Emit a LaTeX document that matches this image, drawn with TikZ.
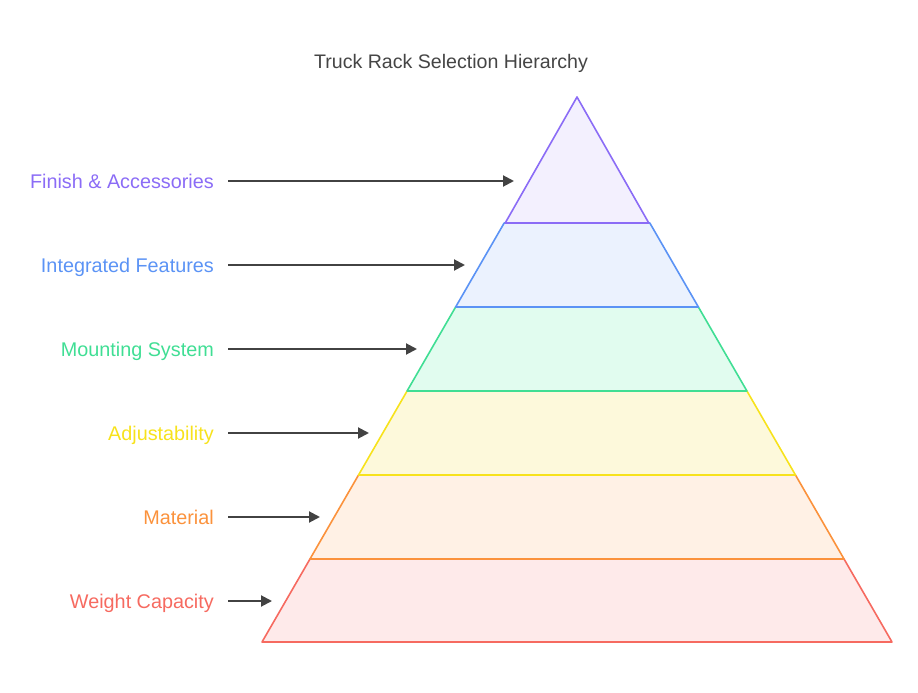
\documentclass[tikz,border=0pt]{standalone}
\usepackage{fontspec}
\setmainfont{Liberation Sans}
\usetikzlibrary{arrows.meta}
\definecolor{cpur}{HTML}{8B6CF6}\definecolor{fpur}{HTML}{F3F0FE}
\definecolor{cblu}{HTML}{5B93F5}\definecolor{fblu}{HTML}{EBF2FE}
\definecolor{cgrn}{HTML}{40DE94}\definecolor{fgrn}{HTML}{E1FCEF}
\definecolor{cyel}{HTML}{F7E21C}\definecolor{fyel}{HTML}{FDF9DB}
\definecolor{corg}{HTML}{FB923C}\definecolor{forg}{HTML}{FFF1E5}
\definecolor{cred}{HTML}{F66A60}\definecolor{fred}{HTML}{FEEAEA}
\definecolor{carr}{HTML}{424242}
\definecolor{ctit}{HTML}{454545}
\begin{document}
\begin{tikzpicture}[x=1pt,y=-1pt,
  layer/.style={line width=1.6pt,line join=round},
  lab/.style={anchor=base east,inner sep=0pt,font=\fontsize{19.8}{22}\selectfont},
  pointer/.style={draw=carr,line width=2pt,-{Triangle[length=11pt,width=11pt]}}]
\useasboundingbox (0,0) rectangle (918,693);
\node[font=\fontsize{19.6}{22}\selectfont,text=ctit,anchor=base,inner sep=0pt] (title) at (451,68) {Truck Rack Selection Hierarchy};
% layers bottom to top
\def\ax{577}\def\ay{97}
\pgfmathsetmacro{\k}{315/545}
\foreach \yt/\yb/\cc/\ff in {559/642/cred/fred,475/559/corg/forg,391/475/cyel/fyel,307/391/cgrn/fgrn,223/307/cblu/fblu}{
  \pgfmathsetmacro{\xtl}{\ax-\k*(\yt-\ay)}
  \pgfmathsetmacro{\xtr}{\ax+\k*(\yt-\ay)}
  \pgfmathsetmacro{\xbl}{\ax-\k*(\yb-\ay)}
  \pgfmathsetmacro{\xbr}{\ax+\k*(\yb-\ay)}
  \draw[layer,draw=\cc,fill=\ff] (\xbl,\yb) -- (\xtl,\yt) -- (\xtr,\yt) -- (\xbr,\yb) -- cycle;
}
\draw[layer,draw=cpur,fill=fpur] (\ax,\ay) -- (505.2,223) -- (648.8,223) -- cycle;
% labels
\node[lab,text=cpur] (l6) at (214,188) {Finish \& Accessories};
\node[lab,text=cblu] (l5) at (214,272) {Integrated Features};
\node[lab,text=cgrn] (l4) at (214,356) {Mounting System};
\node[lab,text=cyel] (l3) at (214,440) {Adjustability};
\node[lab,text=corg] (l2) at (214,524) {Material};
\node[lab,text=cred] (l1) at (214,608) {Weight Capacity};
% arrow targets and sources
\foreach \i/\y/\x in {6/181/514,5/265/465,4/349/417,3/433/369,2/517/320,1/601/272}{
  \coordinate (t\i) at (\x,\y);
  \coordinate (s\i) at (228,\y);
}
\foreach \i in {1,...,6}{
  \draw[pointer] (s\i) -- (t\i);
}
\end{tikzpicture}
\end{document}
